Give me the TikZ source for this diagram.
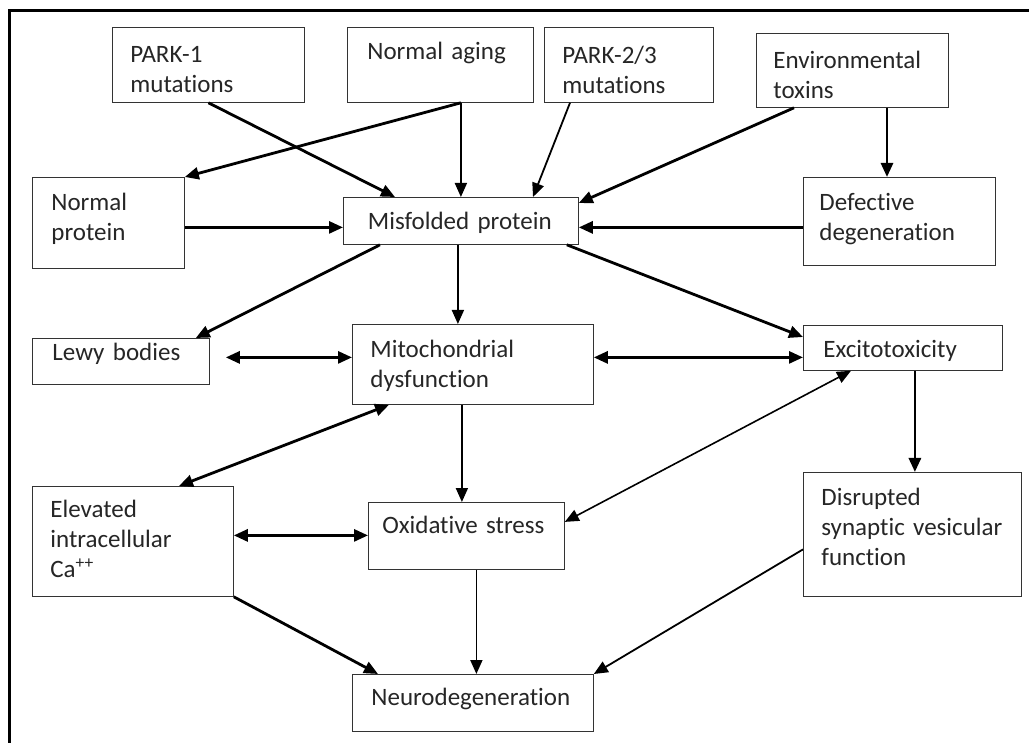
\documentclass[tikz,border=0pt]{standalone}
\usepackage{fontspec}
\setmainfont[Ligatures=NoCommon]{Carlito}
\usetikzlibrary{calc,arrows.meta}

\begin{document}
\begin{tikzpicture}[x=1pt, y=-1pt,
  every node/.style={font=\fontsize{25}{30}\selectfont, text=black!85},
  factor/.style={draw=black!80, line width=0.8pt, anchor=north west, align=left,
    inner xsep=18pt, inner ysep=0pt, text height=32pt},
  link/.style={line width=2.8pt, -{Triangle[length=14pt,width=12pt]}},
  thinlink/.style={line width=1.8pt, -{Triangle[length=14pt,width=12pt]}},
  twoway/.style={line width=2.8pt, {Triangle[length=14pt,width=12pt]}-{Triangle[length=14pt,width=12pt]}},
  thintwoway/.style={line width=1.6pt, {Triangle[length=14pt,width=12pt]}-{Triangle[length=14pt,width=12pt]}},
  frame/.style={line width=3pt}]

% Page and frame
\fill[white] (0,0) rectangle (1029,743);
\useasboundingbox (0,0) rectangle (1029,743);
\draw[frame] (9,760) -- (9,11) -- (1040,11);

% Top row: causes
\node[factor, text width=156pt, text height=35pt, text depth=40pt] (park1) at (112,27) {PARK-1\\mutations};
\node[factor, inner xsep=20pt, text width=146pt, text depth=43pt] (aging) at (347,27) {Normal aging};
\node[factor, text width=133pt, text height=36pt, text depth=39pt] (park23) at (544,27) {PARK-2/3\\mutations};
\node[factor, inner xsep=17pt, text width=158pt, text height=35pt, text depth=39pt] (toxins) at (756,33) {Environmental\\toxins};

% Second row
\node[factor, inner xsep=19pt, text width=114pt, text height=33pt, text depth=58pt] (normal) at (32,177) {Normal\\protein};
\node[factor, inner xsep=24.5pt, text width=186pt, text depth=15pt] (misfold) at (343,197) {Misfolded protein};
\node[factor, inner xsep=16pt, text width=160pt, text height=33pt, text depth=55pt] (defect) at (803,177) {Defective\\degeneration};

% Third row
\node[factor, inner xsep=20pt, text width=137pt, text height=22pt, text depth=24pt] (lewy) at (32,338) {Lewy bodies};
\node[factor, text width=205pt, text height=33pt, text depth=47pt] (mito) at (352,324) {Mitochondrial\\dysfunction};
\node[factor, inner xsep=20pt, text width=159pt, text depth=13pt] (excito) at (803,325) {Excitotoxicity};

% Fourth row
\node[factor, text width=165pt, text height=31pt, text depth=79pt] (calcium) at (32,486) {Elevated\\intracellular\\Ca\textsuperscript{++}};
\node[factor, inner xsep=14pt, text width=168pt, text height=31pt, text depth=36pt] (oxid) at (368,502) {Oxidative stress};
\node[factor, inner xsep=18pt, text width=182pt, text height=33pt, text depth=91pt] (disrupt) at (803,472) {Disrupted\\synaptic vesicular\\function};

% Outcome
\node[factor, inner xsep=19pt, text width=203pt, text height=31pt, text depth=26pt] (neuro) at (352,674) {Neurodegeneration};

% Arrows from the top row
\draw[link] (park1.south) -- ($(misfold.north west)+(52,0)$);
\coordinate (agingout) at (aging.south -| misfold.north);
\draw[thinlink] (agingout) -- (misfold.north);
\draw[link] (agingout) -- (normal.north east);
\draw[thinlink] ($(park23.south west)+(26,0)$) -- ($(misfold.north west)+(190,0)$);
\draw[link] ($(toxins.south west)+(38,0)$) -- ($(misfold.north east)+(0,6)$);
\coordinate (toxinsout) at ($(toxins.south west)+(131,0)$);
\draw[link] (toxinsout) -- (toxinsout |- defect.north);

% Into misfolded protein
\coordinate (misleft) at ($(misfold.west)+(0,6.5)$);
\coordinate (misright) at ($(misfold.east)+(0,6.5)$);
\draw[link] (normal.east |- misleft) -- (misleft);
\draw[link] (defect.west |- misright) -- (misright);

% Out of misfolded protein
\draw[link] ($(misfold.south west)+(37,0)$) -- ($(lewy.north east)+(-14,0)$);
\coordinate (misdown) at ($(misfold.south)+(-3,0)$);
\draw[thinlink] (misdown) -- (misdown |- mito.north);
\draw[link] ($(misfold.south east)+(-12,0)$) -- ($(excito.north west)+(0,12)$);

% Middle row
\coordinate (mitoleft) at ($(mito.west)+(0,-7)$);
\coordinate (mitoright) at ($(mito.east)+(0,-7)$);
\draw[twoway] ($(lewy.east |- mitoleft)+(16,0)$) -- (mitoleft);
\draw[twoway] (mitoright) -- (excito.west |- mitoright);
\coordinate (mitodown) at ($(mito.south)+(-11,0)$);
\draw[thinlink] (mitodown) -- (mitodown |- oxid.north);
\draw[twoway] ($(mito.south west)+(37,0)$) -- ($(calcium.north west)+(147,0)$);
\draw[thintwoway] ($(excito.south west)+(48,0)$) -- ($(oxid.east)+(0,-14)$);
\coordinate (excitodown) at ($(excito.south)+(12,0)$);
\draw[link] (excitodown) -- (excitodown |- disrupt.north);

% Lower row
\coordinate (calciumin) at ($(calcium.east)+(0,-6)$);
\draw[twoway] (calciumin) -- (oxid.west |- calciumin);
\draw[link] (calcium.south east) -- ($(neuro.north west)+(26,0)$);
\coordinate (oxiddown) at ($(oxid.south)+(10,0)$);
\draw[thinlink] (oxiddown) -- (oxiddown |- neuro.north);
\draw[thinlink] ($(disrupt.west)+(0,15)$) -- (neuro.north east);

\end{tikzpicture}
\end{document}
